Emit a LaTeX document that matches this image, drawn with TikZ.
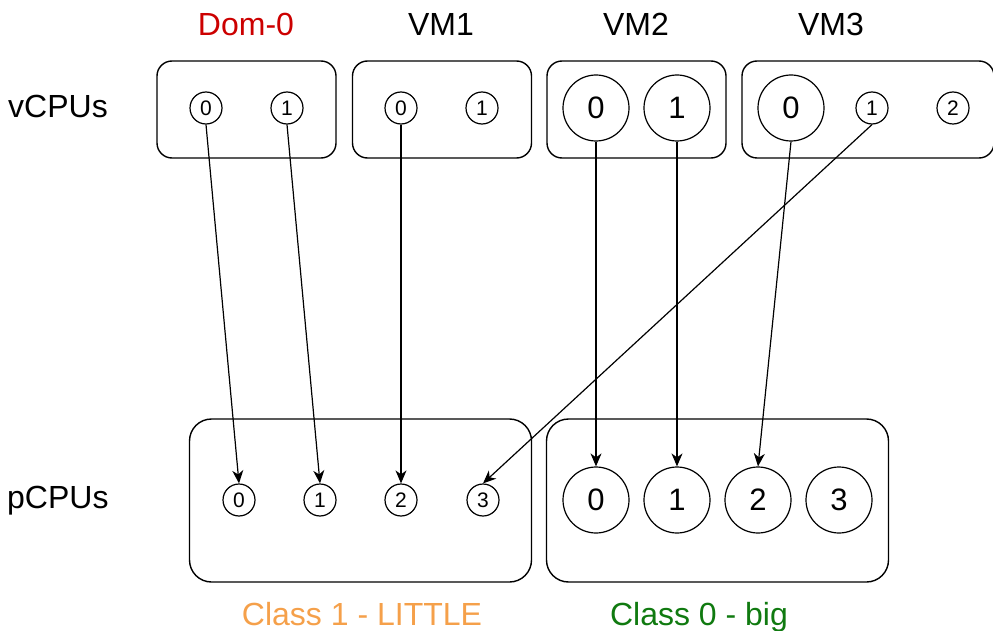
\documentclass[tikz,border=0pt]{standalone}
\usepackage{fontspec}
\setmainfont{Liberation Sans}
\usetikzlibrary{arrows.meta}
\definecolor{domred}{HTML}{CC0000}
\definecolor{littleorange}{HTML}{F5A04A}
\definecolor{biggreen}{HTML}{107A10}
\tikzset{
  grp/.style={draw, rounded corners=15pt, line width=1.4pt, minimum width=179pt, minimum height=97pt},
  pgrp/.style={draw, rounded corners=22pt, line width=1.4pt, minimum width=342pt, minimum height=163pt},
  scpu/.style={circle, draw, line width=1.2pt, minimum size=32pt, inner sep=0pt, font=\fontsize{21}{21}\selectfont},
  bcpu/.style={circle, draw, line width=1.2pt, minimum size=66pt, inner sep=0pt, font=\fontsize{31}{31}\selectfont},
  lbl/.style={font=\fontsize{32}{38}\selectfont, inner sep=0pt},
  link/.style={line width=1.2pt, -{Stealth[length=13pt,width=11pt,inset=4pt]}}
}
\begin{document}
\begin{tikzpicture}[x=1pt,y=-1pt]
\clip (0,0) rectangle (993,631);

% row labels
\node[lbl, anchor=base west] (vlab) at (8,118) {vCPUs};
\node[lbl, anchor=base west] (plab) at (7,508) {pCPUs};

% virtual machine groups
\node[grp] (dom) at (246.5,109.5) {};
\node[grp] (vm1) at (442,109.5) {};
\node[grp] (vm2) at (636.5,109.5) {};
\node[grp, minimum width=252pt] (vm3) at (868,109.5) {};

\node[lbl, anchor=base, text=domred] (tdom) at (246,36) {Dom-0};
\node[lbl, anchor=base] (tvm1) at (441,36) {VM1};
\node[lbl, anchor=base] (tvm2) at (636,36) {VM2};
\node[lbl, anchor=base] (tvm3) at (831,36) {VM3};

% vCPUs
\node[scpu] (d0) at (206,108) {0};
\node[scpu] (d1) at (287,108) {1};
\node[scpu] (a0) at (401,108) {0};
\node[scpu] (a1) at (482,108) {1};
\node[bcpu] (b0) at (596,108) {0};
\node[bcpu] (b1) at (677,108) {1};
\node[bcpu] (c0) at (791,108) {0};
\node[scpu] (c1) at (872,108) {1};
\node[scpu] (c2) at (953,108) {2};

% physical CPU clusters
\node[pgrp] (little) at (360.5,500.5) {};
\node[pgrp] (big) at (717.5,500.5) {};

\node[scpu] (p0) at (239,500) {0};
\node[scpu] (p1) at (320,500) {1};
\node[scpu] (p2) at (401,500) {2};
\node[scpu] (p3) at (483,500) {3};
\node[bcpu] (q0) at (596,500) {0};
\node[bcpu] (q1) at (677,500) {1};
\node[bcpu] (q2) at (758,500) {2};
\node[bcpu] (q3) at (839,500) {3};

\node[lbl, anchor=base, text=littleorange] (tlittle) at (362,625) {Class 1 - LITTLE};
\node[lbl, anchor=base, text=biggreen] (tbig) at (699,625) {Class 0 - big};

% vCPU to pCPU mapping
\draw[link] (d0.south) -- (p0.north);
\draw[link] (d1.south) -- (p1.north);
\draw[link] (a0.south) -- (p2.north);
\draw[link] (c1.south) -- (p3.north);
\draw[link] (b0.south) -- (q0.north);
\draw[link] (b1.south) -- (q1.north);
\draw[link] (c0.south) -- (q2.north);
\end{tikzpicture}
\end{document}
